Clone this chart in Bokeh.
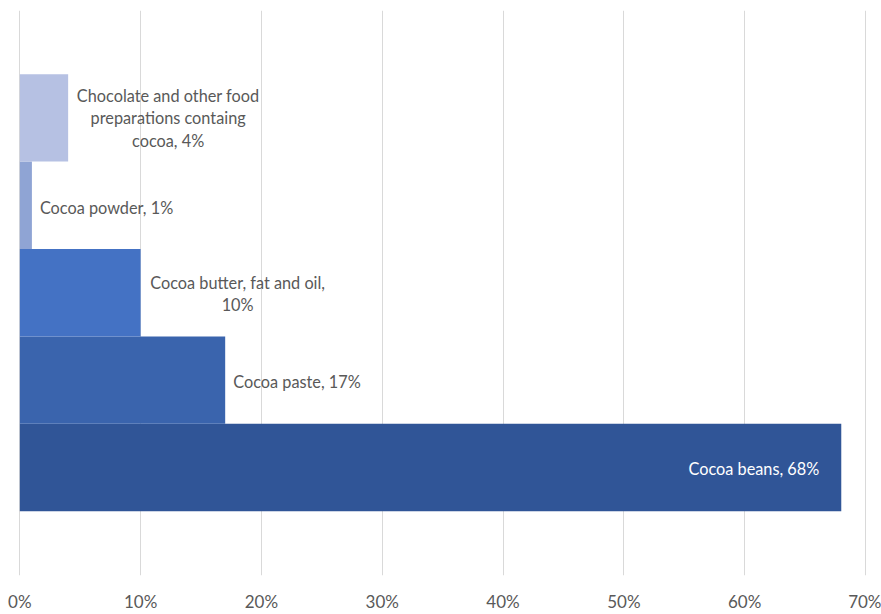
from bokeh.plotting import figure
from bokeh.models import ColumnDataSource, FixedTicker, PrintfTickFormatter, Range1d
from bokeh.core.properties import value
from bokeh.embed import file_html
from bokeh.resources import INLINE

# ---- data (bottom to top) ----
categories = ["Cocoa beans", "Cocoa paste", "Cocoa butter, fat and oil",
              "Cocoa powder", "Chocolate and other food preparations containg cocoa"]
shares = [68, 17, 10, 1, 4]
label_texts = ["Cocoa beans, 68%", "Cocoa paste, 17%", "Cocoa butter, fat and oil,\n10%",
               "Cocoa powder, 1%", "Chocolate and other food\npreparations containg\ncocoa, 4%"]
tick_values = [0, 10, 20, 30, 40, 50, 60, 70]

colors = ["#305597", "#3a64ad", "#4472c4", "#8fa4d4", "#b6c1e3"]
FONT = "Lato"
FS = "16.3px"

pos = list(range(len(categories)))
src = ColumnDataSource(dict(y=pos, right=shares, color=colors, cat=categories))

p = figure(frame_width=881, frame_height=565, output_backend="svg", toolbar_location=None,
           x_range=Range1d(-1.6, 71.33), y_range=Range1d(-1.236, 5.229),
           y_axis_location=None, min_border_left=0, min_border_right=0,
           min_border_top=10, min_border_bottom=36)
p.outline_line_color = None
p.background_fill_color = "white"

p.hbar(y="y", left=0, right="right", height=1.0, color="color", line_color=None, source=src)

# labels: (align, x_offset px, y_offset px, color)
styles = [("right", -22, 1, "white"), ("left", 8, 1, "#595959"), ("center", 97, 1, "#595959"),
          ("left", 8, 2, "#595959"), ("center", 100, 0, "#595959")]
for i, (al, off, yoff, col) in enumerate(styles):
    p.text(x=[shares[i]], y=[pos[i]], text=[label_texts[i]], x_offset=off, y_offset=yoff,
           text_align=al, text_baseline="middle", text_color=col,
           text_font=value(FONT), text_font_size=FS, text_line_height=1.19)

p.xaxis.ticker = FixedTicker(ticks=tick_values)
p.xaxis.formatter = PrintfTickFormatter(format="%d%%")
p.xaxis.axis_line_color = None
p.xaxis.major_tick_line_color = None
p.xaxis.minor_tick_line_color = None
p.xaxis.major_tick_out = 0
p.xaxis.major_tick_in = 0
p.xaxis.minor_tick_out = 0
p.xaxis.major_label_text_font = FONT
p.xaxis.major_label_text_font_size = "17px"
p.xaxis.major_label_text_color = "#595959"
p.xaxis.major_label_standoff = 15

p.xgrid.ticker = FixedTicker(ticks=tick_values)
p.xgrid.grid_line_color = "#d9d9d9"
p.xgrid.grid_line_width = 1
p.ygrid.grid_line_color = None

open("out.html", "w").write(file_html(p, INLINE))
